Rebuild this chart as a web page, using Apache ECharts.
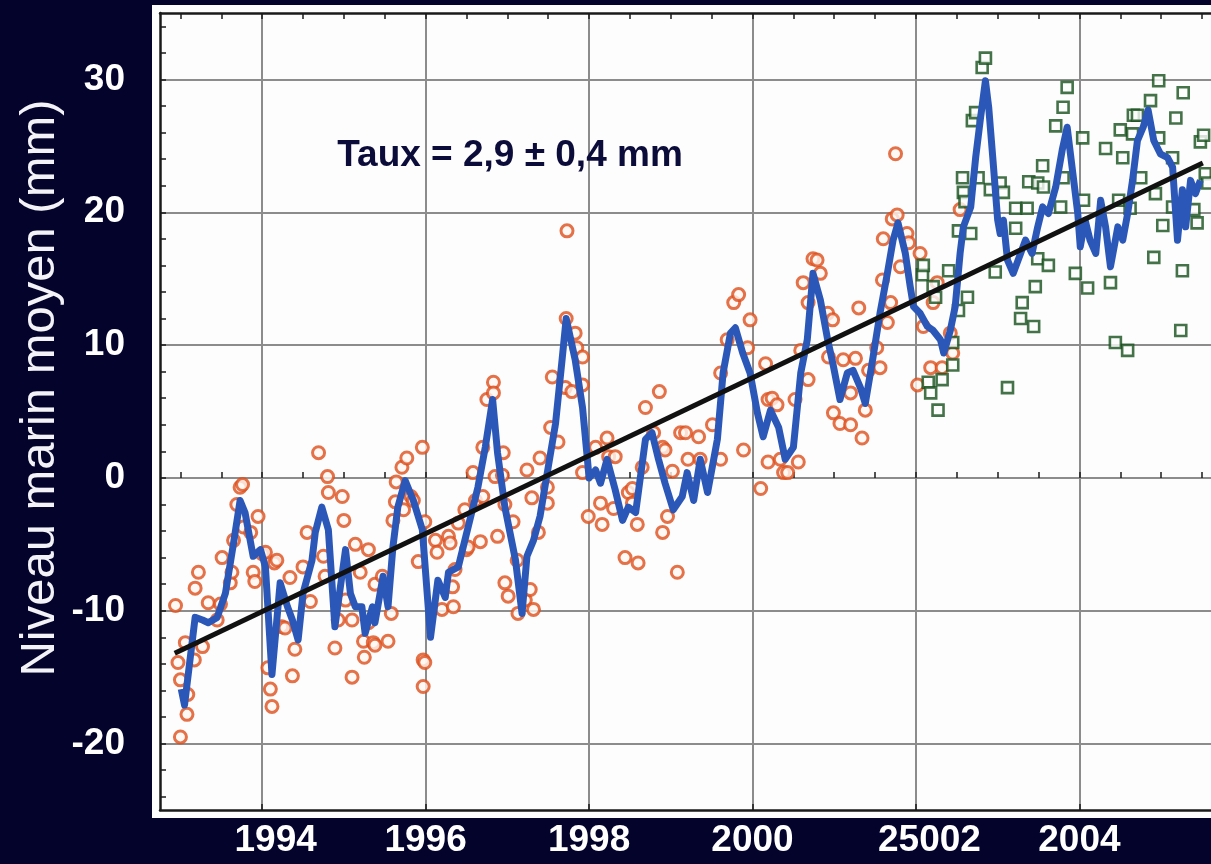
<!DOCTYPE html>
<html>
<head>
<meta charset="utf-8">
<script src="https://cdn.jsdelivr.net/npm/echarts@6/dist/echarts.min.js"></script>
<style>
  html, body { margin: 0; padding: 0; background: #03032c; }
  #chart { width: 1211px; height: 864px; }
</style>
</head>
<body>
<div id="chart"></div>
<script>
// Mean sea level (mm) from satellite altimetry, decimal year vs level.

// TOPEX/Poseidon cycle values [year, mm]
const topexPoints = [
  [1992.94,-9.6],[1992.97,-13.9],[1993.00,-19.5],[1993.00,-15.2],[1993.06,-12.4],[1993.08,-17.8],
  [1993.09,-16.3],[1993.17,-13.7],[1993.18,-8.3],[1993.22,-7.1],[1993.27,-12.7],[1993.34,-9.4],
  [1993.45,-10.7],[1993.49,-9.5],[1993.51,-6.0],[1993.61,-7.9],[1993.63,-7.1],[1993.65,-4.7],
  [1993.69,-2.0],[1993.73,-0.7],[1993.76,-0.5],[1993.77,-3.7],[1993.86,-4.1],[1993.89,-7.1],
  [1993.91,-7.8],[1993.95,-2.9],[1994.00,-5.7],[1994.04,-5.6],[1994.07,-14.3],[1994.10,-15.9],
  [1994.12,-17.2],[1994.15,-6.4],[1994.18,-6.2],[1994.24,-11.2],[1994.28,-11.3],[1994.34,-7.5],
  [1994.37,-14.9],[1994.40,-12.9],[1994.50,-6.7],[1994.55,-4.1],[1994.59,-9.3],[1994.69,1.9],
  [1994.75,-5.9],[1994.77,-7.4],[1994.80,0.1],[1994.81,-1.1],[1994.89,-12.8],[1994.93,-10.7],
  [1994.98,-1.4],[1995.00,-3.2],[1995.02,-9.2],[1995.10,-15.0],[1995.10,-10.7],[1995.14,-5.0],
  [1995.20,-7.1],[1995.24,-12.3],[1995.25,-13.5],[1995.30,-5.4],[1995.30,-10.9],[1995.36,-12.4],
  [1995.38,-12.6],[1995.38,-8.0],[1995.47,-7.4],[1995.54,-12.3],[1995.58,-10.2],[1995.60,-3.2],
  [1995.63,-1.8],[1995.64,-0.3],[1995.71,0.8],[1995.73,-2.4],[1995.77,1.5],[1995.82,-1.4],
  [1995.85,-1.7],[1995.91,-6.3],[1995.96,2.3],[1995.97,-13.7],[1995.99,-13.9],[1995.97,-15.7],
  [1995.99,-3.3],[1996.12,-4.7],[1996.14,-5.6],[1996.20,-9.9],[1996.28,-4.4],[1996.30,-4.9],
  [1996.33,-8.2],[1996.34,-9.7],[1996.36,-6.9],[1996.40,-3.4],[1996.48,-2.4],[1996.50,-5.4],
  [1996.52,-5.2],[1996.58,0.4],[1996.61,-1.7],[1996.67,-4.8],[1996.70,-1.4],[1996.70,2.3],
  [1996.75,5.9],[1996.83,7.2],[1996.83,6.4],[1996.85,0.1],[1996.88,-4.4],[1996.94,0.2],
  [1996.95,1.9],[1996.97,-2.0],[1996.97,-7.9],[1997.01,-8.9],[1997.07,-3.3],[1997.12,-6.2],
  [1997.13,-10.2],[1997.22,-9.2],[1997.24,0.6],[1997.28,-8.4],[1997.30,-1.5],[1997.32,-9.9],
  [1997.38,-4.1],[1997.40,1.5],[1997.49,-0.7],[1997.49,-1.9],[1997.53,3.8],[1997.55,7.6],
  [1997.62,2.7],[1997.71,6.8],[1997.72,12.0],[1997.73,18.6],[1997.79,6.5],[1997.83,10.9],
  [1997.85,9.8],[1997.92,9.1],[1997.92,7.0],[1997.92,0.4],[1997.99,-2.9],[1998.08,2.3],
  [1998.14,-1.9],[1998.16,-3.5],[1998.22,3.0],[1998.24,1.6],[1998.32,1.6],[1998.30,-2.3],
  [1998.44,-6.0],[1998.48,-1.1],[1998.53,-1.9],[1998.53,-0.8],[1998.59,-3.5],[1998.60,-6.4],
  [1998.65,0.8],[1998.69,5.3],[1998.79,3.4],[1998.86,6.5],[1998.90,2.3],[1998.90,-4.1],
  [1998.93,2.1],[1998.96,-2.9],[1999.02,0.5],[1999.08,-7.1],[1999.12,3.4],[1999.18,3.4],
  [1999.21,1.4],[1999.34,3.1],[1999.36,1.4],[1999.51,4.0],[1999.61,1.4],[1999.61,7.9],
  [1999.69,10.4],[1999.77,13.2],[1999.83,13.8],[1999.89,2.1],[1999.94,9.8],[1999.97,11.9],
  [2000.10,-0.8],[2000.16,8.6],[2000.19,5.9],[2000.24,6.0],[2000.30,5.5],[2000.19,1.2],
  [2000.34,1.4],[2000.38,0.4],[2000.43,0.4],[2000.52,5.9],[2000.56,1.2],[2000.59,9.6],
  [2000.62,14.7],[2000.68,7.4],[2000.68,13.2],[2000.74,16.5],[2000.79,16.4],[2000.83,15.4],
  [2000.92,12.4],[2000.93,9.1],[2000.98,11.9],[2000.99,4.9],[2001.07,4.1],[2001.11,8.9],
  [2001.20,6.4],[2001.20,4.0],[2001.26,9.0],[2001.30,12.8],[2001.34,3.0],[2001.38,5.1],
  [2001.42,8.1],[2001.52,9.8],[2001.56,8.3],[2001.59,14.9],[2001.60,18.0],[2001.65,11.7],
  [2001.69,13.2],[2001.71,19.5],[2001.75,24.4],[2001.77,19.8],[2001.81,15.9],[2001.89,18.4],
  [2001.91,17.7],[2002.02,7.0],[2002.05,16.9],[2002.09,11.4],[2002.18,8.3],[2002.21,13.2],
  [2002.26,14.7],[2002.32,8.3],[2002.42,10.9],[2002.45,9.4],[2002.54,20.2]
];

// Jason-1 cycle values [year, mm]
const jasonPoints = [
  [2002.08,15.3],[2002.09,16.0],[2002.15,7.2],[2002.18,6.4],[2002.21,14.4],[2002.24,13.6],
  [2002.27,5.1],[2002.32,7.4],[2002.40,15.6],[2002.45,10.2],[2002.45,8.5],[2002.52,12.6],
  [2002.52,18.6],[2002.57,22.6],[2002.58,21.5],[2002.60,20.8],[2002.63,13.6],[2002.67,18.4],
  [2002.69,26.9],[2002.73,27.5],[2002.76,22.6],[2002.81,30.9],[2002.85,31.6],[2002.91,21.7],
  [2002.97,15.5],[2003.03,22.2],[2003.07,21.5],[2003.12,6.8],[2003.22,20.3],[2003.22,18.8],
  [2003.28,12.0],[2003.30,13.2],[2003.36,20.3],[2003.38,22.3],[2003.44,11.4],[2003.46,14.4],
  [2003.49,22.2],[2003.49,16.5],[2003.55,23.5],[2003.56,21.9],[2003.62,16.0],[2003.71,26.5],
  [2003.77,20.4],[2003.80,27.9],[2003.80,22.6],[2003.85,29.4],[2003.95,15.4],[2004.04,25.6],
  [2004.05,20.9],[2004.10,14.3],[2004.32,24.8],[2004.38,14.7],[2004.44,10.2],[2004.48,20.9],
  [2004.50,26.2],[2004.53,24.1],[2004.59,9.6],[2004.62,20.3],[2004.65,25.9],[2004.66,27.3],
  [2004.71,27.3],[2004.75,22.6],[2004.87,28.4],[2004.91,16.6],[2004.93,21.4],[2004.97,29.9],
  [2004.97,25.6],[2005.02,19.0],[2005.14,24.1],[2005.14,20.4],[2005.18,27.1],[2005.24,11.1],
  [2005.26,15.6],[2005.27,29.0],[2005.40,20.2],[2005.44,19.2],[2005.48,25.3],[2005.52,25.8],
  [2005.54,22.9],[2005.57,22.2]
];

// Smoothed mean sea level [year, mm]
const smoothedLevel = [
  [1993.01,-15.9],[1993.05,-17.1],[1993.18,-10.5],[1993.27,-10.7],[1993.34,-10.9],[1993.45,-10.5],
  [1993.55,-8.7],[1993.65,-4.9],[1993.73,-1.7],[1993.79,-2.6],[1993.89,-5.9],[1993.98,-5.4],
  [1994.04,-6.7],[1994.12,-14.8],[1994.22,-7.9],[1994.31,-9.7],[1994.37,-10.7],[1994.44,-12.2],
  [1994.50,-8.7],[1994.61,-6.2],[1994.65,-4.1],[1994.73,-2.2],[1994.81,-3.9],[1994.89,-11.2],
  [1995.02,-5.4],[1995.08,-8.7],[1995.14,-9.7],[1995.22,-9.7],[1995.26,-11.7],[1995.35,-9.7],
  [1995.38,-10.9],[1995.48,-7.4],[1995.54,-9.7],[1995.60,-5.2],[1995.66,-2.2],[1995.75,-0.2],
  [1995.85,-1.7],[1995.96,-3.9],[1996.06,-12.0],[1996.15,-7.7],[1996.24,-9.0],[1996.28,-7.1],
  [1996.40,-6.7],[1996.52,-3.7],[1996.64,-0.7],[1996.73,2.3],[1996.82,5.9],[1996.88,1.9],
  [1996.97,-2.2],[1997.10,-6.2],[1997.18,-10.2],[1997.24,-5.9],[1997.32,-4.7],[1997.40,-2.9],
  [1997.50,0.8],[1997.59,4.1],[1997.67,8.9],[1997.72,12.0],[1997.83,8.9],[1997.92,5.3],
  [1997.98,1.4],[1998.00,0.0],[1998.08,0.6],[1998.14,-0.4],[1998.22,1.4],[1998.32,-0.9],
  [1998.41,-3.2],[1998.48,-2.2],[1998.57,-2.6],[1998.69,2.9],[1998.77,3.4],[1998.85,1.4],
  [1998.93,-0.4],[1999.03,-2.4],[1999.14,-1.4],[1999.20,0.4],[1999.28,-1.7],[1999.36,1.4],
  [1999.45,-1.1],[1999.57,2.9],[1999.64,7.9],[1999.73,10.9],[1999.79,11.3],[1999.88,9.4],
  [1999.97,7.9],[2000.06,4.9],[2000.13,3.1],[2000.22,5.1],[2000.32,3.8],[2000.40,1.4],
  [2000.50,2.3],[2000.59,7.9],[2000.67,10.4],[2000.74,15.4],[2000.83,13.4],[2000.92,10.4],
  [2000.99,8.4],[2001.07,5.9],[2001.16,7.9],[2001.23,8.1],[2001.32,6.8],[2001.38,5.6],
  [2001.47,8.9],[2001.56,12.4],[2001.65,15.4],[2001.72,17.9],[2001.78,19.2],[2001.87,16.9],
  [2001.93,14.4],[2001.97,12.9],[2002.05,12.4],[2002.14,11.4],[2002.21,11.1],[2002.30,10.4],
  [2002.34,9.4],[2002.42,11.1],[2002.48,12.9],[2002.54,16.9],[2002.58,18.9],[2002.67,20.4],
  [2002.73,24.1],[2002.79,27.1],[2002.85,29.9],[2002.89,27.9],[2002.94,24.1],[2003.00,19.4],
  [2003.03,18.4],[2003.07,19.4],[2003.12,16.4],[2003.19,15.4],[2003.28,16.9],[2003.34,17.9],
  [2003.42,16.9],[2003.49,18.9],[2003.55,20.4],[2003.62,19.9],[2003.71,21.9],[2003.79,24.7],
  [2003.85,26.4],[2003.91,23.4],[2003.98,19.9],[2004.01,17.4],[2004.07,19.4],[2004.13,17.9],
  [2004.20,16.9],[2004.26,20.9],[2004.32,18.9],[2004.38,15.9],[2004.47,18.9],[2004.53,17.9],
  [2004.59,19.9],[2004.65,22.4],[2004.71,25.4],[2004.78,26.4],[2004.84,27.7],[2004.91,25.4],
  [2004.99,24.4],[2005.08,24.1],[2005.14,23.4],[2005.20,17.9],[2005.26,21.7],[2005.30,18.9],
  [2005.36,22.4],[2005.42,21.4],[2005.48,22.4]
];

// Linear trend (about 2.9 mm per year)
const trendLine = [[1992.93, -13.2], [2005.51, 23.7]];

// Axis ticks and labels
const yLabelValues = [-20, -10, 0, 10, 20, 30];
const yMinorTicks = [-24,-22,-20,-18,-16,-14,-12,-10,-8,-6,-4,-2,0,2,4,6,8,10,12,14,16,18,20,22,24,26,28,30,32,34];
const xLabelValues = [1994, 1996, 1998, 2000, 2002, 2004];
const xTickLabels = ['1994', '1996', '1998', '2000', '25002', '2004'];
const xMinorTicks = [1993,1993.5,1994,1994.5,1995,1995.5,1996,1996.5,1997,1997.5,1998,1998.5,1999,1999.5,
  2000,2000.5,2001,2001.5,2002,2002.5,2003,2003.5,2004,2004.5,2005,2005.5];

const rateText = 'Taux = 2,9 ± 0,4 mm';
const yTitle = 'Niveau marin moyen (mm)';

const FONT = '"Liberation Sans", Arial, Helvetica, sans-serif';
const X_MIN = 1992.75, X_MAX = 2005.61, Y_MIN = -25, Y_MAX = 35;

const chart = echarts.init(document.getElementById('chart'), null, { renderer: 'canvas' });

const labelStyle = { color: '#ffffff', fontSize: 37, fontWeight: 'bold', fontFamily: FONT };

const option = {
  backgroundColor: '#03032c',
  animation: false,
  grid: { left: 160, right: 0, top: 13, bottom: 54, containLabel: false },
  graphic: [
    { type: 'rect', z: -10, silent: true,
      shape: { x: 152, y: 5, width: 1100, height: 813 },
      style: { fill: '#fdfdfd' } },
    { type: 'text', z: 10, silent: true,
      x: 40, y: 388, rotation: Math.PI / 2,
      style: { text: yTitle, fill: '#f2f2f7', font: '49px ' + FONT,
               textAlign: 'center', textVerticalAlign: 'middle' } },
    { type: 'text', z: 10, silent: true,
      x: 510, y: 156,
      style: { text: rateText, fill: '#0c0c3a', font: 'bold 37px ' + FONT,
               textAlign: 'center', textVerticalAlign: 'middle' } }
  ],
  xAxis: [
    { // main bottom axis: labels, grid lines, frame
      type: 'value', position: 'bottom', min: X_MIN, max: X_MAX,
      axisLine: { show: true, onZero: false, lineStyle: { color: '#1a1a1a', width: 2.5 } },
      axisTick: { show: true, inside: true, length: 6, customValues: xLabelValues,
                  lineStyle: { color: '#1a1a1a', width: 1.5 } },
      splitLine: { show: true, lineStyle: { color: '#8c8c8c', width: 2 } },
      axisLabel: {
        ...labelStyle, margin: 12, customValues: xLabelValues,
        formatter: v => {
          const i = xLabelValues.indexOf(Math.round(v));
          const t = i >= 0 ? xTickLabels[i] : '';
          return (t === '1994' || t === '25002') ? '{s|' + t + '}' : t;
        },
        rich: { s: { ...labelStyle, padding: [0, 0, 0, 27] } }
      }
    },
    { // half-year ticks along the bottom
      type: 'value', position: 'bottom', min: X_MIN, max: X_MAX,
      axisLine: { show: false },
      axisTick: { show: true, inside: true, length: 6, customValues: xMinorTicks,
                  lineStyle: { color: '#1a1a1a', width: 1.5 } },
      splitLine: { show: false }, axisLabel: { show: false }
    },
    { // top frame with ticks
      type: 'value', position: 'top', min: X_MIN, max: X_MAX,
      axisLine: { show: true, onZero: false, lineStyle: { color: '#1a1a1a', width: 2.5 } },
      axisTick: { show: true, inside: true, length: 6, customValues: xMinorTicks,
                  lineStyle: { color: '#1a1a1a', width: 1.5 } },
      splitLine: { show: false }, axisLabel: { show: false }
    }
  ],
  yAxis: [
    {
      type: 'value', position: 'left', min: Y_MIN, max: Y_MAX,
      axisLine: { show: true, onZero: false, lineStyle: { color: '#1a1a1a', width: 2.5 } },
      axisTick: { show: true, inside: true, length: 6, customValues: yLabelValues,
                  lineStyle: { color: '#1a1a1a', width: 1.5 } },
      splitLine: { show: true, lineStyle: { color: '#8c8c8c', width: 2 } },
      axisLabel: { ...labelStyle, margin: 35, customValues: yLabelValues,
                   formatter: v => String(Math.round(v)) }
    },
    {
      type: 'value', position: 'left', min: Y_MIN, max: Y_MAX,
      axisLine: { show: false },
      axisTick: { show: true, inside: true, length: 6, customValues: yMinorTicks,
                  lineStyle: { color: '#1a1a1a', width: 1.5 } },
      splitLine: { show: false }, axisLabel: { show: false }
    }
  ],
  series: [
    {
      name: 'TOPEX/Poseidon', type: 'scatter', xAxisIndex: 0, yAxisIndex: 0,
      data: topexPoints, symbol: 'circle', symbolSize: 12, z: 3,
      itemStyle: { color: '#fff8f2', borderColor: '#dd4f1c', borderWidth: 3 }
    },
    {
      name: 'Jason-1', type: 'scatter', xAxisIndex: 0, yAxisIndex: 0,
      data: jasonPoints, symbol: 'rect', symbolSize: 11, z: 3,
      itemStyle: { color: '#fbfdfb', borderColor: '#17501c', borderWidth: 2.6 }
    },
    {
      name: 'Lissage', type: 'line', xAxisIndex: 0, yAxisIndex: 0,
      data: smoothedLevel, showSymbol: false, symbol: 'none', z: 4,
      lineStyle: { color: '#2b58b8', width: 7, join: 'round' }
    },
    {
      name: 'Tendance', type: 'line', xAxisIndex: 0, yAxisIndex: 0,
      data: trendLine, showSymbol: false, symbol: 'none', z: 5,
      lineStyle: { color: '#111111', width: 5 }
    }
  ]
};

chart.setOption(option);
</script>
</body>
</html>
